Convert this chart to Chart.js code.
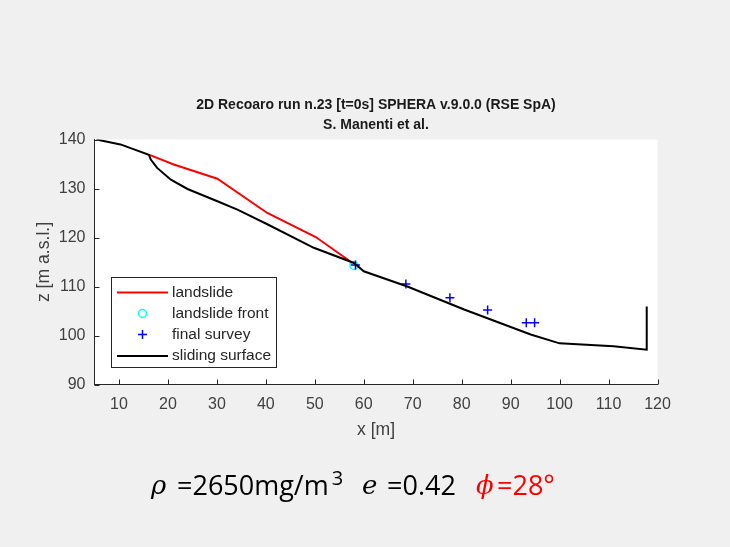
<!DOCTYPE html>
<html>
<head>
<meta charset="utf-8">
<script src="https://cdn.jsdelivr.net/npm/chart.js@4.4.1/dist/chart.umd.min.js"></script>
<style>
  html, body { margin: 0; padding: 0; background: #f0f0f0; }
  #wrap { position: relative; width: 730px; height: 547px; overflow: hidden; background: #f0f0f0; }
  #c { position: absolute; left: 0; top: 0; }
  .f { position: absolute; white-space: nowrap; line-height: 30px; height: 30px; top: 470px; }
  .sym { font-family: "DejaVu Serif", "Liberation Serif", serif; font-style: italic; font-size: 26px; }
  .txt { font-family: "Open Sans", sans-serif; font-size: 27px; }
  .red { color: #ff0000; }
  sup { font-size: 20px; vertical-align: 0; position: relative; top: -10px; margin-left: 3px; }
</style>
</head>
<body>
<div id="wrap">
  <canvas id="c" width="730" height="547"></canvas>
  <span class="f sym" style="left:151px">ρ</span>
  <span class="f txt" style="left:177px">=2650mg/m<sup>3</sup></span>
  <span class="f sym" style="left:362px">e</span>
  <span class="f txt" style="left:387px">=0.42</span>
  <span class="f sym red" style="left:476px">ϕ</span>
  <span class="f txt red" style="left:497px">=28°</span>
</div>
<script>
const titleLines = ["2D Recoaro run n.23 [t=0s] SPHERA v.9.0.0 (RSE SpA)", "S. Manenti et al."];
const xTitle = "x [m]";
const yTitle = "z [m a.s.l.]";
const xTicks = [10, 20, 30, 40, 50, 60, 70, 80, 90, 100, 110, 120];
const yTicks = [90, 100, 110, 120, 130, 140];

const landslideX = [16.1, 21.2, 30.1, 40.3, 50.2, 57.7];
const landslideZ = [136.9, 134.9, 132.0, 125.0, 120.1, 114.8];

const frontX = [58.0];
const frontZ = [114.3];

const surveyX = [58.3, 68.6, 77.6, 85.3, 93.2, 94.9];
const surveyZ = [114.4, 110.5, 107.7, 105.2, 102.6, 102.6];

const surfaceX = [5.4, 10.3, 16.1, 16.5, 17.8, 20.6, 24.0, 30.1, 34.2, 40.3, 49.8, 58.0, 60.0, 68.9, 80.5, 94.1, 100.0, 111.0, 117.8, 117.8];
const surfaceZ = [140.0, 139.0, 136.9, 135.9, 134.2, 131.8, 129.9, 127.4, 125.7, 122.7, 117.9, 114.8, 113.1, 110.0, 105.3, 100.2, 98.4, 97.8, 97.1, 105.9];

const seriesNames = ["landslide", "landslide front", "final survey", "sliding surface"];

const pts = (xs, ys) => xs.map((x, i) => ({x: x, y: ys[i]}));

const AX = '#262626';
const FONT = '"Liberation Sans", Arial, sans-serif';

const bgPlugin = {
  id: 'bg',
  beforeDraw(chart) {
    const {ctx, chartArea: a} = chart;
    ctx.save();
    ctx.fillStyle = '#f0f0f0';
    ctx.fillRect(0, 0, chart.width, chart.height);
    ctx.fillStyle = '#ffffff';
    ctx.fillRect(a.left, a.top, a.right - a.left, a.bottom - a.top);
    ctx.restore();
  },
  afterDraw(chart) {
    const {ctx, chartArea: a} = chart;
    const xs = chart.scales.x, ys = chart.scales.y;
    ctx.save();
    // inward ticks
    ctx.strokeStyle = AX;
    ctx.lineWidth = 1;
    ctx.beginPath();
    xs.ticks.forEach(t => {
      const px = Math.round(xs.getPixelForValue(t.value)) + 0.5;
      ctx.moveTo(px, a.bottom); ctx.lineTo(px, a.bottom - 5);
    });
    ys.ticks.forEach(t => {
      const py = Math.round(ys.getPixelForValue(t.value)) + 0.5;
      ctx.moveTo(a.left, py); ctx.lineTo(a.left + 5, py);
    });
    ctx.stroke();
    // title
    ctx.fillStyle = '#1a1a1a';
    ctx.font = 'bold 14px ' + FONT;
    ctx.textAlign = 'center';
    ctx.textBaseline = 'middle';
    const cx = (a.left + a.right) / 2;
    ctx.fillText(titleLines[0], cx, 105);
    ctx.fillText(titleLines[1], cx, 125);
    // legend
    const lx = 111.5, ly = 277.5, lw = 165, lh = 90;
    ctx.fillStyle = '#ffffff';
    ctx.fillRect(lx, ly, lw, lh);
    ctx.strokeStyle = AX;
    ctx.lineWidth = 1;
    ctx.strokeRect(lx, ly, lw, lh);
    const rows = [292.5, 313.5, 334.5, 356];
    const ds = chart.data.datasets;
    ctx.font = '15.5px ' + FONT;
    ctx.textAlign = 'left';
    ctx.textBaseline = 'middle';
    rows.forEach((ry, i) => {
      const d = ds[i];
      if (d.showLine) {
        ctx.strokeStyle = d.borderColor;
        ctx.lineWidth = 2;
        ctx.beginPath(); ctx.moveTo(117, ry); ctx.lineTo(168, ry); ctx.stroke();
      } else if (d.pointStyle === 'circle') {
        ctx.strokeStyle = d.borderColor; ctx.lineWidth = 1.5;
        ctx.beginPath(); ctx.arc(142.5, ry, 4, 0, Math.PI * 2); ctx.stroke();
      } else {
        ctx.strokeStyle = d.borderColor; ctx.lineWidth = 1.5;
        ctx.beginPath(); ctx.moveTo(138, ry); ctx.lineTo(147, ry); ctx.moveTo(142.5, ry - 4.5); ctx.lineTo(142.5, ry + 4.5); ctx.stroke();
      }
      ctx.fillStyle = AX;
      ctx.fillText(d.label, 172, ry);
    });
    ctx.restore();
  }
};

new Chart(document.getElementById('c'), {
  type: 'scatter',
  data: {
    datasets: [
      { label: seriesNames[0], data: pts(landslideX, landslideZ), showLine: true, borderColor: '#ff0000', borderWidth: 2, pointRadius: 0, order: 3 },
      { label: seriesNames[1], data: pts(frontX, frontZ), showLine: false, pointStyle: 'circle', pointRadius: 4, borderColor: '#00ffff', backgroundColor: 'rgba(0,0,0,0)', pointBorderWidth: 1.5, order: 2 },
      { label: seriesNames[2], data: pts(surveyX, surveyZ), showLine: false, pointStyle: 'cross', pointRadius: 4.5, borderColor: '#0000ff', backgroundColor: '#0000ff', pointBorderWidth: 1.5, order: 1 },
      { label: seriesNames[3], data: pts(surfaceX, surfaceZ), showLine: true, borderColor: '#000000', borderWidth: 2, pointRadius: 0, order: 0 }
    ]
  },
  options: {
    responsive: false,
    animation: false,
    devicePixelRatio: 1,
    layout: { padding: { left: 0, right: 72.5, top: 139.5, bottom: 102.5 } },
    plugins: { legend: { display: false }, tooltip: { enabled: false }, title: { display: false } },
    scales: {
      x: {
        type: 'linear', min: 5, max: 120,
        afterFit(s) { s.height = 60; },
        afterBuildTicks(s) { s.ticks = xTicks.map(v => ({value: v})); },
        grid: { display: false, drawTicks: false },
        border: { display: true, color: AX, width: 1 },
        ticks: { color: '#404040', font: { family: FONT, size: 16 }, padding: 10, maxRotation: 0, autoSkip: false },
        title: { display: true, text: xTitle, color: '#404040', font: { family: FONT, size: 17.6 }, padding: { top: 0, bottom: 3.4 } }
      },
      y: {
        type: 'linear', min: 90, max: 140,
        afterFit(s) { s.width = 94.5; },
        afterBuildTicks(s) { s.ticks = yTicks.map(v => ({value: v})); },
        grid: { display: false, drawTicks: false },
        border: { display: true, color: AX, width: 1 },
        ticks: { color: '#404040', font: { family: FONT, size: 16 }, padding: 9, autoSkip: false },
        title: { display: true, text: yTitle, color: '#404040', font: { family: FONT, size: 17.6 }, padding: { top: 33.4, bottom: 0 } }
      }
    }
  },
  plugins: [bgPlugin]
});
</script>
</body>
</html>
